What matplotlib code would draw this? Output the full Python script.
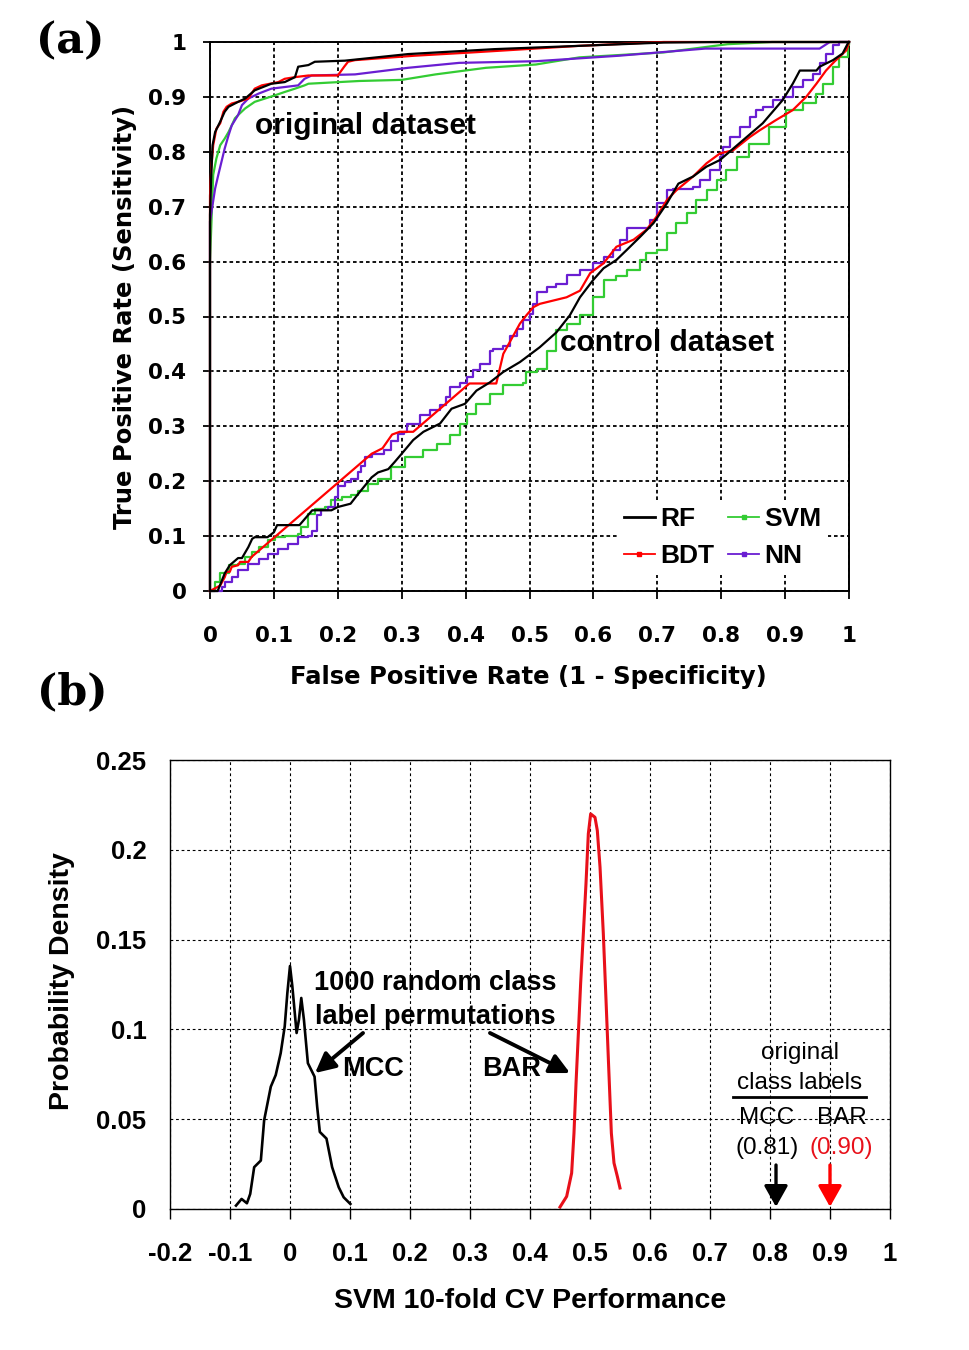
import matplotlib
matplotlib.use('Agg')
import matplotlib.pyplot as plt
from matplotlib.lines import Line2D
from matplotlib.font_manager import FontProperties

# ---------------- data: panel (a) ROC curves (FPR, TPR) ----------------
rf_orig = [(0, 0), (0, 0.685), (0.002, 0.758), (0.004, 0.812), (0.008, 0.836), (0.016, 0.855),
           (0.023, 0.873), (0.029, 0.882), (0.044, 0.891), (0.055, 0.897), (0.07, 0.912),
           (0.096, 0.924), (0.117, 0.927), (0.133, 0.936), (0.138, 0.955), (0.154, 0.958),
           (0.164, 0.964), (0.211, 0.966), (0.31, 0.978), (0.445, 0.987), (0.578, 0.993),
           (0.71, 0.999), (0.80, 1.0), (1.0, 1.0)]
bdt_orig = [(0, 0), (0, 0.72), (0.002, 0.77), (0.005, 0.812), (0.01, 0.842), (0.016, 0.852),
            (0.021, 0.873), (0.026, 0.882), (0.034, 0.888), (0.044, 0.891), (0.06, 0.897),
            (0.07, 0.915), (0.081, 0.921), (0.107, 0.927), (0.117, 0.933), (0.133, 0.936),
            (0.154, 0.939), (0.2, 0.939), (0.21, 0.955), (0.216, 0.964), (0.227, 0.967),
            (0.32, 0.975), (0.41, 0.981), (0.578, 0.993), (0.71, 1.0), (1.0, 1.0)]
svm_orig = [(0, 0), (0, 0.6), (0.005, 0.758), (0.01, 0.788), (0.016, 0.812), (0.023, 0.824),
            (0.029, 0.836), (0.034, 0.848), (0.039, 0.861), (0.044, 0.867), (0.055, 0.879),
            (0.07, 0.891), (0.086, 0.897), (0.102, 0.903), (0.117, 0.909), (0.133, 0.915),
            (0.148, 0.921), (0.154, 0.924), (0.234, 0.929), (0.30, 0.931), (0.353, 0.941),
            (0.432, 0.953), (0.51, 0.959), (0.578, 0.972), (0.71, 0.981), (0.81, 0.996),
            (0.88, 1.0), (1.0, 1.0)]
nn_orig = [(0, 0), (0, 0.673), (0.008, 0.733), (0.013, 0.758), (0.018, 0.782), (0.023, 0.806),
           (0.029, 0.83), (0.034, 0.848), (0.044, 0.867), (0.05, 0.885), (0.06, 0.897),
           (0.076, 0.906), (0.096, 0.915), (0.117, 0.918), (0.138, 0.921), (0.148, 0.933),
           (0.159, 0.939), (0.227, 0.941), (0.31, 0.953), (0.39, 0.962), (0.51, 0.965),
           (0.64, 0.975), (0.775, 0.988), (0.954, 0.988), (0.97, 1.0), (1.0, 1.0)]

rf_ctrl = [(0, 0), (0.012, 0.0), (0.023, 0.032), (0.031, 0.047), (0.044, 0.06), (0.05, 0.06),
           (0.06, 0.08), (0.066, 0.095), (0.07, 0.098), (0.09, 0.098), (0.1, 0.107), (0.105, 0.12),
           (0.14, 0.12), (0.16, 0.147), (0.19, 0.147), (0.2, 0.153), (0.22, 0.159), (0.232, 0.177),
           (0.253, 0.207), (0.263, 0.216), (0.279, 0.222), (0.289, 0.235), (0.3, 0.25),
           (0.318, 0.275), (0.334, 0.29), (0.36, 0.305), (0.378, 0.332), (0.399, 0.341),
           (0.417, 0.365), (0.438, 0.38), (0.459, 0.399), (0.485, 0.417), (0.516, 0.444),
           (0.542, 0.471), (0.563, 0.502), (0.579, 0.535), (0.6, 0.567), (0.616, 0.588),
           (0.636, 0.603), (0.652, 0.621), (0.673, 0.645), (0.694, 0.67), (0.715, 0.706),
           (0.733, 0.742), (0.756, 0.755), (0.777, 0.773), (0.798, 0.785), (0.828, 0.815),
           (0.865, 0.852), (0.896, 0.894), (0.912, 0.924), (0.923, 0.948), (0.949, 0.948),
           (0.954, 0.955), (0.975, 0.967), (0.99, 0.979), (0.998, 0.997), (1.0, 1.0)]
bdt_ctrl = [(0, 0), (0.016, 0.01), (0.023, 0.025), (0.026, 0.035), (0.031, 0.035), (0.034, 0.044),
            (0.044, 0.047), (0.047, 0.053), (0.06, 0.053), (0.065, 0.062), (0.253, 0.25),
            (0.27, 0.26), (0.285, 0.285), (0.297, 0.29), (0.318, 0.29), (0.406, 0.378),
            (0.448, 0.378), (0.459, 0.432), (0.485, 0.487), (0.495, 0.502), (0.506, 0.517),
            (0.516, 0.523), (0.537, 0.529), (0.558, 0.535), (0.579, 0.547), (0.595, 0.579),
            (0.616, 0.597), (0.636, 0.627), (0.663, 0.64), (0.683, 0.658), (0.699, 0.682),
            (0.715, 0.712), (0.73, 0.73), (0.756, 0.755), (0.777, 0.779), (0.798, 0.797),
            (0.819, 0.803), (0.845, 0.827), (0.86, 0.839), (0.886, 0.858), (0.912, 0.876),
            (0.933, 0.9), (0.949, 0.924), (0.964, 0.948), (0.977, 0.964), (0.996, 0.985),
            (1.0, 1.0)]
svm_ctrl = [(0, 0), (0.008, 0.016), (0.016, 0.032), (0.029, 0.047), (0.044, 0.05), (0.055, 0.062),
            (0.065, 0.071), (0.076, 0.08), (0.091, 0.092), (0.102, 0.098), (0.117, 0.101),
            (0.138, 0.104), (0.143, 0.116), (0.154, 0.141), (0.164, 0.15), (0.18, 0.153),
            (0.19, 0.165), (0.206, 0.171), (0.221, 0.174), (0.232, 0.183), (0.247, 0.195),
            (0.263, 0.204), (0.284, 0.225), (0.305, 0.244), (0.334, 0.256), (0.355, 0.268),
            (0.376, 0.284), (0.391, 0.305), (0.402, 0.323), (0.417, 0.341), (0.438, 0.359),
            (0.459, 0.375), (0.49, 0.378), (0.495, 0.399), (0.511, 0.405), (0.527, 0.438),
            (0.542, 0.475), (0.558, 0.487), (0.579, 0.502), (0.6, 0.536), (0.616, 0.567),
            (0.636, 0.573), (0.652, 0.585), (0.673, 0.603), (0.683, 0.615), (0.699, 0.621),
            (0.715, 0.652), (0.73, 0.67), (0.746, 0.688), (0.761, 0.712), (0.777, 0.73),
            (0.793, 0.748), (0.808, 0.767), (0.824, 0.791), (0.844, 0.815), (0.875, 0.845),
            (0.902, 0.876), (0.928, 0.888), (0.949, 0.906), (0.959, 0.924), (0.975, 0.955),
            (0.985, 0.973), (0.998, 0.994), (1.0, 1.0)]
nn_ctrl = [(0, 0), (0.018, 0.007), (0.023, 0.016), (0.034, 0.025), (0.044, 0.038), (0.06, 0.05),
           (0.076, 0.059), (0.091, 0.068), (0.107, 0.077), (0.122, 0.086), (0.138, 0.098),
           (0.154, 0.101), (0.159, 0.11), (0.167, 0.138), (0.174, 0.147), (0.185, 0.153),
           (0.195, 0.171), (0.2, 0.192), (0.211, 0.198), (0.221, 0.204), (0.232, 0.216),
           (0.237, 0.228), (0.242, 0.244), (0.253, 0.25), (0.273, 0.256), (0.284, 0.274),
           (0.294, 0.286), (0.303, 0.29), (0.308, 0.305), (0.329, 0.32), (0.344, 0.329),
           (0.36, 0.338), (0.37, 0.353), (0.376, 0.371), (0.391, 0.378), (0.402, 0.39),
           (0.412, 0.402), (0.422, 0.414), (0.438, 0.438), (0.443, 0.441), (0.459, 0.447),
           (0.469, 0.465), (0.48, 0.477), (0.49, 0.493), (0.5, 0.505), (0.506, 0.523),
           (0.511, 0.544), (0.527, 0.553), (0.542, 0.559), (0.558, 0.575), (0.579, 0.585),
           (0.6, 0.597), (0.616, 0.609), (0.631, 0.621), (0.642, 0.639), (0.652, 0.661),
           (0.678, 0.661), (0.689, 0.676), (0.699, 0.706), (0.715, 0.73), (0.725, 0.733),
           (0.756, 0.736), (0.767, 0.748), (0.782, 0.767), (0.798, 0.791), (0.803, 0.809),
           (0.814, 0.827), (0.829, 0.845), (0.845, 0.864), (0.855, 0.876), (0.865, 0.882),
           (0.881, 0.894), (0.896, 0.9), (0.912, 0.918), (0.928, 0.93), (0.943, 0.942),
           (0.954, 0.961), (0.964, 0.979), (0.975, 0.994), (0.985, 1.0), (1.0, 1.0)]

roc_labels = ['RF', 'BDT', 'SVM', 'NN']
roc_colors = ['#000000', '#ff0000', '#33cc33', '#6a1ed2']
roc_ticks = [0, 0.1, 0.2, 0.3, 0.4, 0.5, 0.6, 0.7, 0.8, 0.9, 1]
roc_ticklabels = ['0', '0.1', '0.2', '0.3', '0.4', '0.5', '0.6', '0.7', '0.8', '0.9', '1']

# ---------------- data: panel (b) permutation densities ----------------
mcc_x = [-0.09, -0.0807, -0.0718, -0.0663, -0.0597, -0.0486, -0.0431, -0.032, -0.0238, -0.0155,
         -0.0088, -0.0044, 0.0, 0.0039, 0.011, 0.0149, 0.0188, 0.0232, 0.0298, 0.0409, 0.0453,
         0.0497, 0.0608, 0.0702, 0.0812, 0.0895, 0.1006]
mcc_y = [0.0019, 0.0056, 0.0032, 0.0084, 0.0233, 0.027, 0.0494, 0.0681, 0.0746, 0.0868, 0.1017,
         0.1203, 0.1353, 0.124, 0.098, 0.1054, 0.1175, 0.1054, 0.0812, 0.0737, 0.0569, 0.0429,
         0.0392, 0.0233, 0.0121, 0.0065, 0.0028]
bar_x = [0.45, 0.4611, 0.4694, 0.4733, 0.4767, 0.4806, 0.4844, 0.4889, 0.4933, 0.4972, 0.5011,
         0.5083, 0.5122, 0.5167, 0.5222, 0.5267, 0.5311, 0.5356, 0.54, 0.5456, 0.55]
bar_y = [0.0011, 0.007, 0.02, 0.0422, 0.07, 0.0978, 0.1256, 0.1533, 0.1811, 0.2089, 0.22,
         0.2181, 0.2107, 0.1904, 0.1533, 0.1163, 0.0793, 0.0422, 0.0256, 0.0181, 0.0117]
orig_mcc = 0.81
orig_bar = 0.90
b_xticks = [-0.2, -0.1, 0, 0.1, 0.2, 0.3, 0.4, 0.5, 0.6, 0.7, 0.8, 0.9, 1]
b_xticklabels = ['-0.2', '-0.1', '0', '0.1', '0.2', '0.3', '0.4', '0.5', '0.6', '0.7', '0.8', '0.9', '1']
b_yticks = [0, 0.05, 0.1, 0.15, 0.2, 0.25]
b_yticklabels = ['0', '0.05', '0.1', '0.15', '0.2', '0.25']

# ---------------- figure ----------------
W, H = 969, 1350
fig = plt.figure(figsize=(W / 100, H / 100), dpi=100)
fig.patch.set_facecolor('white')

def fx(px):
    return px / W

def fy(py):
    return 1 - py / H

ARIAL = 'Liberation Sans'
DEJ = 'DejaVu Sans'

# ---- panel (a)
axa = fig.add_axes([fx(210), fy(591), fx(849) - fx(210), fy(42) - fy(591)])
axa.set_xlim(0, 1)
axa.set_ylim(0, 1)
axa.set_axisbelow(True)
axa.grid(True, color='black', linestyle=(0, (2, 1.6)), linewidth=1.3)
for s in axa.spines.values():
    s.set_linewidth(1.4)
axa.set_xticks(roc_ticks)
axa.set_yticks(roc_ticks)
axa.set_xticklabels(roc_ticklabels, fontfamily=DEJ, fontweight='bold', fontsize=15.5)
axa.set_yticklabels(roc_ticklabels, fontfamily=DEJ, fontweight='bold', fontsize=15.5)
axa.tick_params(axis='x', direction='out', length=6, width=1.3, pad=19)
axa.tick_params(axis='y', direction='out', length=5, width=1.3, pad=12)

orig_sets = [rf_orig, bdt_orig, svm_orig, nn_orig]
ctrl_sets = [rf_ctrl, bdt_ctrl, svm_ctrl, nn_ctrl]
draw_order = [2, 3, 1, 0]
zord = {0: 6, 1: 5, 2: 3, 3: 4}
for i in draw_order:
    ox = [p[0] for p in orig_sets[i]]
    oy = [p[1] for p in orig_sets[i]]
    cx = [p[0] for p in ctrl_sets[i]]
    cy = [p[1] for p in ctrl_sets[i]]
    axa.plot(ox, oy, color=roc_colors[i], lw=1.6, zorder=zord[i], clip_on=False)
    ds = 'steps-post' if i in (2, 3) else 'default'
    axa.plot(cx, cy, color=roc_colors[i], lw=1.6, zorder=zord[i], drawstyle=ds, clip_on=False)

axa.text(0.07, 0.847, 'original dataset', fontfamily=ARIAL, fontweight='bold', fontsize=21.5,
         ha='left', va='center', zorder=10)
axa.text(0.548, 0.452, 'control dataset', fontfamily=ARIAL, fontweight='bold', fontsize=21.5,
         ha='left', va='center', zorder=10)

handles = []
for i in range(4):
    if i == 0:
        handles.append(Line2D([], [], color=roc_colors[i], lw=2))
    else:
        handles.append(Line2D([], [], color=roc_colors[i], lw=1.3, marker='s', markersize=2.5))
leg = axa.legend(handles, roc_labels, ncol=2, loc='lower right', bbox_to_anchor=(0.975, 0.02),
                 prop=FontProperties(family=ARIAL, weight='bold', size=19),
                 handlelength=1.15, handletextpad=0.2, columnspacing=0.55, labelspacing=0.5,
                 frameon=True, fancybox=False, borderpad=0.25, borderaxespad=0.2)
leg.get_frame().set_edgecolor('none')
leg.get_frame().set_facecolor('white')
leg.get_frame().set_alpha(1)
leg.set_zorder(20)

fig.text(fx(125), fy(317), 'True Positive Rate (Sensitivity)', rotation=90, ha='center',
         va='center', fontfamily=DEJ, fontweight='bold', fontsize=17.5)
fig.text(fx(528), fy(677), 'False Positive Rate (1 - Specificity)', ha='center', va='center',
         fontfamily=DEJ, fontweight='bold', fontsize=17.5)
fig.text(fx(70), fy(41), '(a)', ha='center', va='center', fontfamily='DejaVu Serif',
         fontweight='bold', fontsize=31)
fig.text(fx(72), fy(692), '(b)', ha='center', va='center', fontfamily='DejaVu Serif',
         fontweight='bold', fontsize=31)

# ---- panel (b)
axb = fig.add_axes([fx(170), fy(1209), fx(890) - fx(170), fy(760) - fy(1209)])
axb.set_xlim(-0.2, 1)
axb.set_ylim(0, 0.25)
axb.set_axisbelow(True)
axb.grid(True, color='black', linestyle=(0, (2.5, 2.5)), linewidth=0.8)
for s in axb.spines.values():
    s.set_linewidth(1.0)
axb.set_xticks(b_xticks)
axb.set_yticks(b_yticks)
axb.set_xticklabels(b_xticklabels, fontfamily=ARIAL, fontweight='bold', fontsize=18.5)
axb.set_yticklabels(b_yticklabels, fontfamily=ARIAL, fontweight='bold', fontsize=18.5)
axb.tick_params(axis='x', direction='out', length=7, width=1.0, pad=17)
axb.tick_params(axis='y', direction='out', length=0, pad=17)

axb.plot(mcc_x, mcc_y, color='black', lw=1.9)
axb.plot(bar_x, bar_y, color='#e8101a', lw=2.2)

tkw = dict(fontfamily=ARIAL, fontweight='bold', fontsize=19.5, ha='center', va='center')
axb.text(0.2417, 0.126, '1000 random class', **tkw)
axb.text(0.2417, 0.107, 'label permutations', **tkw)
axb.text(0.138, 0.078, 'MCC', **tkw)
axb.text(0.37, 0.078, 'BAR', **tkw)
akw = dict(arrowstyle='-|>,head_length=0.8,head_width=0.4', lw=2.8, color='black',
           mutation_scale=15, shrinkA=0, shrinkB=0)
axb.annotate('', xy=(0.0417, 0.0757), xytext=(0.1217, 0.098), arrowprops=akw)
axb.annotate('', xy=(0.4667, 0.0757), xytext=(0.3333, 0.098), arrowprops=akw)

rkw = dict(fontfamily=ARIAL, fontsize=17.5, ha='center', va='center')
axb.text(0.85, 0.0869, 'original', **rkw)
axb.text(0.85, 0.0702, 'class labels', **rkw)
axb.plot([0.738, 0.96], [0.0624, 0.0624], color='black', lw=2.0)
axb.text(0.795, 0.0507, 'MCC', **rkw)
axb.text(0.92, 0.0507, 'BAR', **rkw)
axb.text(0.795, 0.034, '(0.81)', **rkw)
axb.text(0.918, 0.034, '(0.90)', color='#e8101a', **rkw)
dkw = dict(arrowstyle='-|>,head_length=0.8,head_width=0.45', lw=2.4, mutation_scale=16,
           shrinkA=0, shrinkB=0)
axb.annotate('', xy=(orig_mcc, 0.0012), xytext=(orig_mcc, 0.0245),
             arrowprops=dict(color='black', **dkw))
axb.annotate('', xy=(orig_bar, 0.0012), xytext=(orig_bar, 0.0245),
             arrowprops=dict(color='#ff0000', **dkw))

fig.text(fx(530), fy(1301), 'SVM 10-fold CV Performance', ha='center', va='center',
         fontfamily=ARIAL, fontweight='bold', fontsize=20.5)
fig.text(fx(62), fy(981), 'Probability Density', rotation=90, ha='center', va='center',
         fontfamily=ARIAL, fontweight='bold', fontsize=20.5)

fig.savefig('out.png', dpi=100, facecolor='white')
